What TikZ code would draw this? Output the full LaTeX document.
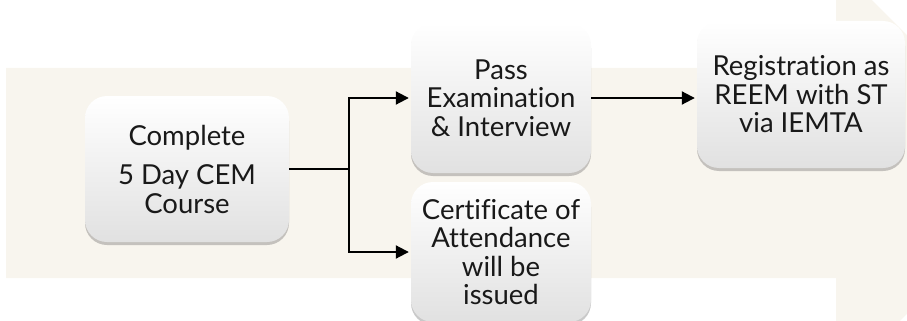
\documentclass[tikz,border=0pt]{standalone}
\usepackage{fontspec}
\setmainfont{Lato}[Ligatures={NoCommon}]
\usetikzlibrary{arrows.meta,shadows}
\definecolor{bandbeige}{HTML}{F8F5EE}
\definecolor{boxgrey}{HTML}{E1E1E1}
\tikzset{
	stepbox/.style={rounded corners=22pt, top color=white, middle color=white, bottom color=boxgrey,
		drop shadow={shadow xshift=0pt, shadow yshift=-3pt, opacity=0.3, fill=black!70},
		align=center, inner sep=0pt, text=black!90, font=\fontsize{27.5}{28.5}\selectfont},
	link/.style={line width=2pt},
	flow/.style={link, shorten >=2pt, -{Triangle[length=13pt,width=13pt]}}
}
\begin{document}
\begin{tikzpicture}[x=1pt,y=-1pt]
		\clip (0,0) rectangle (907,321);
		\fill[bandbeige] (6,68) -- (836,68) -- (836,-36) -- (1046,174.5) -- (836,385) -- (836,278) -- (6,278) -- cycle;

		\node[stepbox, minimum width=204pt, minimum height=146pt] (course) at (187,169) {Complete\\[11pt]5 Day CEM\\Course};
		\node[stepbox, minimum width=180pt, minimum height=150pt] (exam) at (501,98) {Pass\\Examination\\\& Interview};
		\node[stepbox, minimum width=180pt, minimum height=140pt] (cert) at (501,252) {Certificate of\\Attendance\\will be\\issued};
		\node[stepbox, minimum width=208pt, minimum height=147pt] (reg) at (801,94.5) {Registration as\\REEM with ST\\via IEMTA};

		\coordinate (split) at (349,169);
		\draw[link] (course.east) -- (split);
		\draw[flow] (split) |- (exam.west);
		\draw[flow] (split) |- (cert.west);
		\draw[flow] (exam.east) -- (exam.east -| reg.west);
	\end{tikzpicture}
\end{document}
